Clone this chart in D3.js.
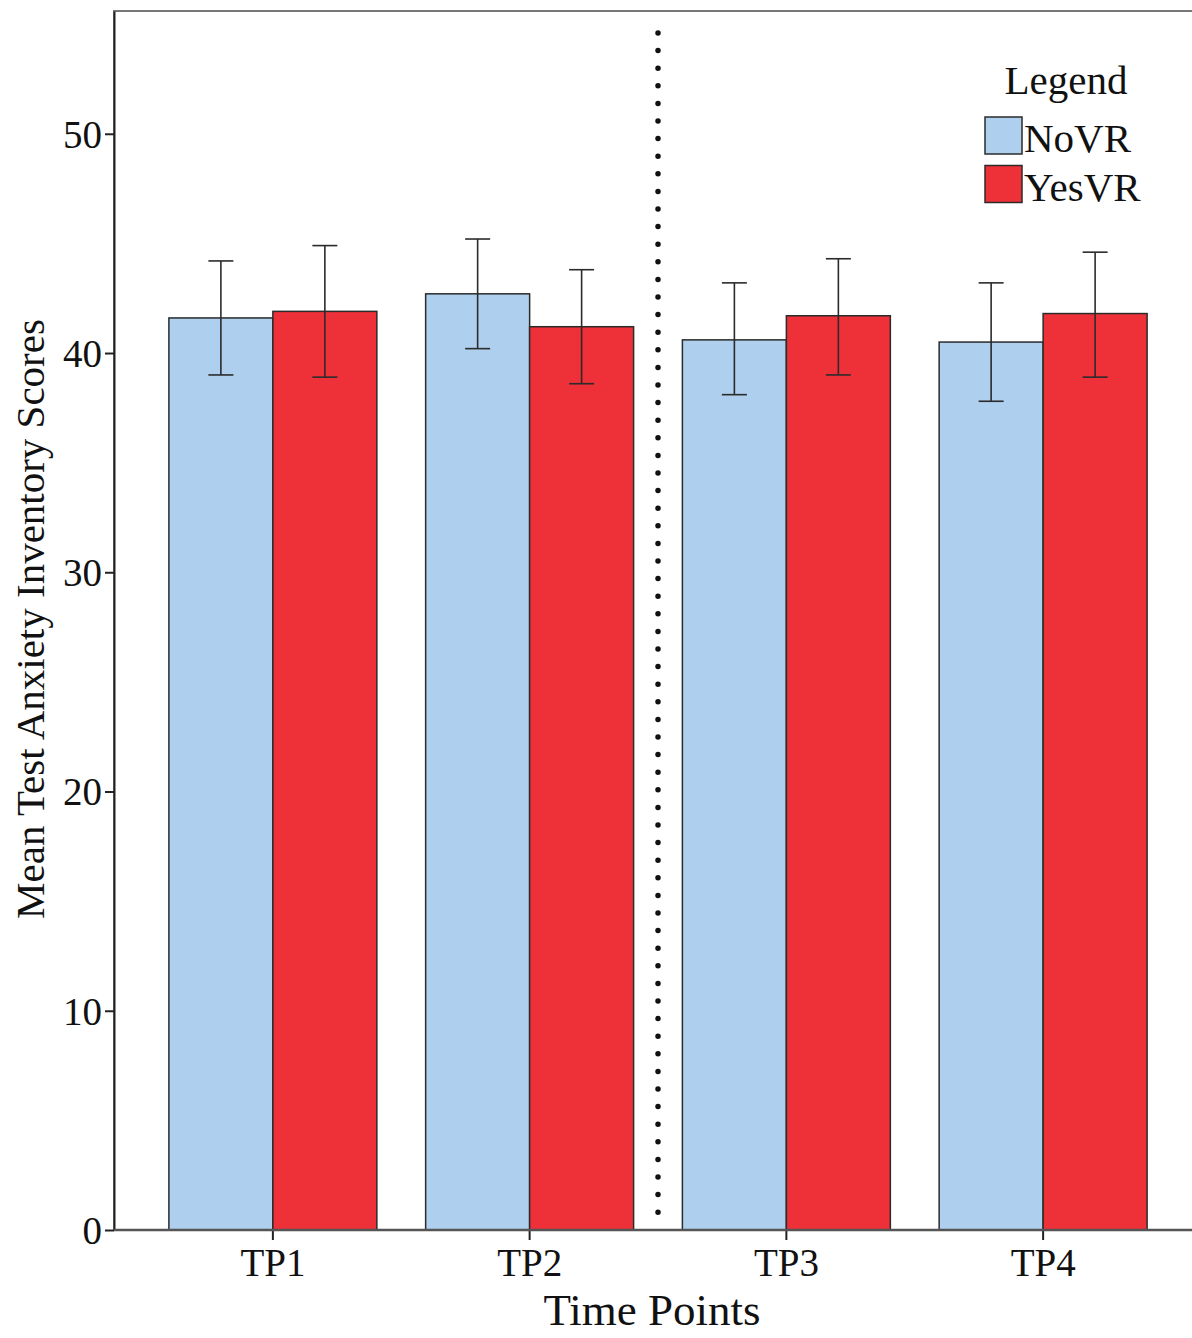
<!DOCTYPE html>
<html>
<head>
<meta charset="utf-8">
<script src="https://cdn.jsdelivr.net/npm/d3@7"></script>
<style>
	body { margin: 0; background: #fff; }
	svg { display: block; }
	text { font-family: "Liberation Serif", "Times New Roman", serif; fill: #111; }
</style>
</head>
<body>
<div id="chart"></div>
<script>
// data
const timePoints = ['TP1', 'TP2', 'TP3', 'TP4'];
const groups = ['NoVR', 'YesVR'];
const noVRMeans = [41.6, 42.7, 40.6, 40.5];
const noVRLow = [39.0, 40.2, 38.1, 37.8];
const noVRHigh = [44.2, 45.2, 43.2, 43.2];
const yesVRMeans = [41.9, 41.2, 41.7, 41.8];
const yesVRLow = [38.9, 38.6, 39.0, 38.9];
const yesVRHigh = [44.9, 43.8, 44.3, 44.6];
const yTicks = [0, 10, 20, 30, 40, 50];
const colors = { NoVR: '#aecfed', YesVR: '#ee3039' };

const width = 1192, height = 1338;
const margin = { top: 11, left: 114, bottom: 108 };
const plotBottom = height - margin.bottom;

// build rows for drawing
const rows = [];
timePoints.forEach((tp, i) => {
	rows.push({ tp, group: 'NoVR', mean: noVRMeans[i], lo: noVRLow[i], hi: noVRHigh[i] });
	rows.push({ tp, group: 'YesVR', mean: yesVRMeans[i], lo: yesVRLow[i], hi: yesVRHigh[i] });
});

const svg = d3.select('#chart').append('svg').attr('width', width).attr('height', height);

// scales
const x = d3.scaleBand().domain(timePoints).range([144.5, 1171.5]).paddingInner(0.19).paddingOuter(0.095);
const xInner = d3.scaleBand().domain(groups).range([0, x.bandwidth()]);
const y = d3.scaleLinear().domain([0, 55.6]).range([plotBottom, margin.top]);

// frame (right edge falls outside the picture)
svg.append('rect')
	.attr('x', margin.left).attr('y', margin.top)
	.attr('width', width + 20 - margin.left).attr('height', plotBottom - margin.top)
	.attr('fill', 'none').attr('stroke', '#777').attr('stroke-width', 2);

// bars
svg.append('g').selectAll('rect')
	.data(rows)
	.join('rect')
	.attr('x', d => x(d.tp) + xInner(d.group))
	.attr('y', d => y(d.mean))
	.attr('width', xInner.bandwidth())
	.attr('height', d => y(0) - y(d.mean))
	.attr('fill', d => colors[d.group])
	.attr('stroke', '#2b2b2b')
	.attr('stroke-width', 1.5);

// error bars
const eb = svg.append('g').attr('stroke', '#2b2b2b').attr('stroke-width', 1.6);
rows.forEach(d => {
	const cx = x(d.tp) + xInner(d.group) + xInner.bandwidth() / 2;
	eb.append('line').attr('x1', cx).attr('x2', cx).attr('y1', y(d.lo)).attr('y2', y(d.hi));
	eb.append('line').attr('x1', cx - 12.5).attr('x2', cx + 12.5).attr('y1', y(d.lo)).attr('y2', y(d.lo));
	eb.append('line').attr('x1', cx - 12.5).attr('x2', cx + 12.5).attr('y1', y(d.hi)).attr('y2', y(d.hi));
});

// dotted separator between TP2 and TP3
const sepX = (x('TP2') + x.bandwidth() + x('TP3')) / 2;
svg.append('line')
	.attr('x1', sepX).attr('x2', sepX)
	.attr('y1', 33).attr('y2', plotBottom - 2)
	.attr('stroke', '#111').attr('stroke-width', 5.5)
	.attr('stroke-linecap', 'round')
	.attr('stroke-dasharray', '0 17.6');

// axes
const yAxis = d3.axisLeft(y).tickValues(yTicks).tickSize(9).tickSizeOuter(0).tickPadding(3).tickFormat(d3.format('d'));
const yAxisG = svg.append('g').attr('transform', `translate(${margin.left},0)`).call(yAxis);
yAxisG.select('.domain').attr('stroke', '#222').attr('stroke-width', 2);
yAxisG.selectAll('.tick line').attr('stroke', '#222').attr('stroke-width', 2);
yAxisG.selectAll('.tick text').style('font-size', '39px').attr('dy', '0.34em').attr('fill', '#111');

const xAxis = d3.axisBottom(x).tickSize(10).tickPadding(8);
const xAxisG = svg.append('g').attr('transform', `translate(0,${plotBottom})`).call(xAxis);
xAxisG.select('.domain').remove();
xAxisG.append('line').attr('x1', margin.left).attr('x2', width).attr('stroke', '#555').attr('stroke-width', 2.5);
xAxisG.selectAll('.tick line').attr('stroke', '#222').attr('stroke-width', 2);
xAxisG.selectAll('.tick text').style('font-size', '39px').attr('fill', '#111');

// axis labels
svg.append('text')
	.attr('text-anchor', 'middle')
	.attr('x', 652).attr('y', 1325)
	.style('font-size', '45px')
	.text('Time Points');

svg.append('text')
	.attr('text-anchor', 'middle')
	.attr('transform', 'translate(44,619) rotate(-90)')
	.style('font-size', '41px')
	.text('Mean Test Anxiety Inventory Scores');

// legend
const legend = svg.append('g').attr('transform', 'translate(985,0)');
legend.append('text')
	.attr('text-anchor', 'middle')
	.attr('x', 81).attr('y', 94)
	.style('font-size', '41px')
	.text('Legend');
groups.forEach((g, i) => {
	legend.append('rect')
		.attr('x', 0).attr('y', 117 + i * 48.5)
		.attr('width', 37).attr('height', 37)
		.attr('fill', colors[g]).attr('stroke', '#2b2b2b').attr('stroke-width', 1.5);
	legend.append('text')
		.attr('x', 39).attr('y', 152 + i * 48.5)
		.style('font-size', '41px')
		.text(g);
});
</script>
</body>
</html>
